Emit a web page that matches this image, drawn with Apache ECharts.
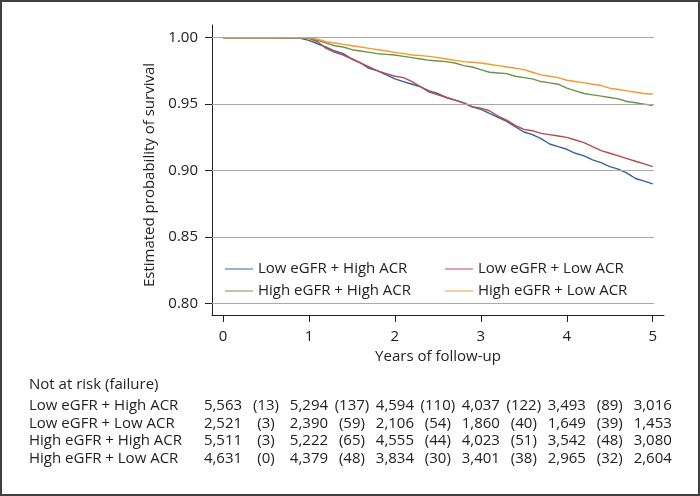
<!DOCTYPE html>
<html><head><meta charset="utf-8">
<script src="https://cdn.jsdelivr.net/npm/echarts@6/dist/echarts.min.js"></script>
<style>html,body{margin:0;padding:0;background:#fff}#c{width:700px;height:496px}</style>
</head><body><div id="c"></div>
<script>
const years = [0,0.5,0.9,1.0,1.1,1.2,1.3,1.4,1.5,1.6,1.7,1.8,1.9,2.0,2.1,2.2,2.3,2.4,2.5,2.6,2.7,2.8,2.9,3.0,3.1,3.2,3.3,3.4,3.5,3.6,3.7,3.8,3.9,4.0,4.1,4.2,4.3,4.4,4.5,4.6,4.7,4.8,4.9,5.0];
const lowEgfrHighAcr  = [1,1,0.9995,0.998,0.9955,0.993,0.990,0.988,0.984,0.981,0.977,0.975,0.972,0.969,0.967,0.965,0.963,0.960,0.958,0.955,0.953,0.951,0.948,0.946,0.943,0.940,0.937,0.933,0.929,0.927,0.924,0.920,0.918,0.916,0.913,0.911,0.908,0.906,0.903,0.901,0.898,0.894,0.892,0.890];
const lowEgfrLowAcr   = [1,1,1,0.9995,0.997,0.992,0.989,0.987,0.984,0.981,0.978,0.975,0.973,0.971,0.970,0.967,0.963,0.959,0.957,0.955,0.953,0.951,0.948,0.947,0.945,0.941,0.938,0.934,0.931,0.930,0.928,0.927,0.926,0.925,0.923,0.921,0.918,0.915,0.913,0.911,0.909,0.907,0.905,0.903];
const highEgfrHighAcr = [1,1,1,0.9995,0.998,0.996,0.994,0.993,0.991,0.990,0.989,0.988,0.9875,0.987,0.986,0.985,0.984,0.983,0.9825,0.982,0.981,0.979,0.978,0.976,0.974,0.9735,0.973,0.971,0.970,0.969,0.967,0.966,0.965,0.962,0.960,0.958,0.957,0.956,0.955,0.954,0.952,0.951,0.950,0.949];
const highEgfrLowAcr  = [1,1,1,1,0.999,0.997,0.996,0.995,0.994,0.993,0.992,0.991,0.990,0.989,0.988,0.987,0.9865,0.986,0.985,0.984,0.983,0.982,0.9815,0.981,0.980,0.979,0.978,0.977,0.976,0.974,0.972,0.971,0.970,0.968,0.967,0.966,0.965,0.964,0.962,0.961,0.960,0.959,0.958,0.9575];

const seriesNames = ['Low eGFR + High ACR','Low eGFR + Low ACR','High eGFR + High ACR','High eGFR + Low ACR'];
const seriesValues = [lowEgfrHighAcr, lowEgfrLowAcr, highEgfrHighAcr, highEgfrLowAcr];
const seriesColors = ['#35609f','#b84a4e','#6a9445','#f39a2e'];

const xTicks = [0,1,2,3,4,5];
const yTicks = [0.80,0.85,0.90,0.95,1.00];

const riskTitle = 'Not at risk (failure)';
const riskRowLabels = ['Low eGFR + High ACR','Low eGFR + Low ACR','High eGFR + High ACR','High eGFR + Low ACR'];
const notAtRisk = [
  ['5,563','5,294','4,594','4,037','3,493','3,016'],
  ['2,521','2,390','2,106','1,860','1,649','1,453'],
  ['5,511','5,222','4,555','4,023','3,542','3,080'],
  ['4,631','4,379','3,834','3,401','2,965','2,604']
];
const failures = [
  ['(13)','(137)','(110)','(122)','(89)'],
  ['(3)','(59)','(54)','(40)','(39)'],
  ['(3)','(65)','(44)','(51)','(48)'],
  ['(0)','(48)','(30)','(38)','(32)']
];

const FONT = '"Open Sans", "Noto Sans", sans-serif';
const TXT = '#222';
const xMin = -0.128, xMax = 5.131, yMin = 0.7912, yMax = 1.0096, gridEnd = 5.015;

const chart = echarts.init(document.getElementById('c'), null, {renderer:'canvas'});

const legendPos = [[225,260],[445,260],[225,282],[445,282]];

const option = {
  animation: false,
  backgroundColor: '#fff',
  grid: {left:212, top:25, width:452, height:290, containLabel:false, outerBoundsMode:'none'},
  xAxis: {
    type:'value', min:xMin, max:xMax,
    axisLine:{show:true, onZero:false, lineStyle:{color:TXT, width:1}},
    axisTick:{show:true, customValues:xTicks, length:7, lineStyle:{color:TXT}},
    axisLabel:{customValues:xTicks, margin:14, fontSize:15, color:TXT, fontFamily:FONT},
    splitLine:{show:false},
    name:'Years of follow-up', nameLocation:'middle', nameGap:33,
    nameTextStyle:{fontSize:15, color:TXT, fontFamily:FONT}
  },
  yAxis: {
    type:'value', min:yMin, max:yMax,
    axisLine:{show:true, onZero:false, lineStyle:{color:TXT, width:1}},
    axisTick:{show:true, customValues:yTicks, length:7, lineStyle:{color:TXT}},
    axisLabel:{customValues:yTicks, margin:14, fontSize:15, color:TXT, fontFamily:FONT, formatter:v=>v.toFixed(2)},
    splitLine:{show:false},
    name:'Estimated probability of survival', nameLocation:'middle', nameGap:50,
    nameTextStyle:{fontSize:15, color:TXT, fontFamily:FONT, padding:[0,10,0,0]}
  },
  legend: seriesNames.map((n,i)=>({
    data:[n], left:legendPos[i][0], top:legendPos[i][1], padding:0,
    icon:'rect', itemWidth:28, itemHeight:1.5,
    itemStyle:{opacity:0.65},
    textStyle:{fontSize:15, color:TXT, fontFamily:FONT, lineHeight:18}
  })),
  series: [
    {
      type:'line', name:'grid', data:[], z:1, silent:true,
      markLine:{
        silent:true, symbol:['none','none'], label:{show:false},
        lineStyle:{color:'#a8a8a8', type:'solid', width:1},
        data: yTicks.map(v=>[{coord:[xMin, v]},{coord:[gridEnd, v]}])
      }
    },
    ...seriesNames.map((n,i)=>({
      type:'line', name:n, z:2, showSymbol:false, symbol:'none',
      color: seriesColors[i],
      lineStyle:{width:1.4, color:seriesColors[i]},
      data: years.map((t,k)=>[t, seriesValues[i][k]])
    }))
  ]
};
chart.setOption(option);

const graphics = [];
graphics.push({type:'rect', shape:{x:1,y:1,width:698,height:494}, style:{fill:null, stroke:'#404040', lineWidth:2}, z:100});
graphics.push({type:'text', x:29, y:385, style:{text:riskTitle, fontSize:15, fontFamily:FONT, fill:TXT, align:'left', verticalAlign:'middle'}});
const rowY = [406, 423.5, 441, 458.5];
riskRowLabels.forEach((lab,r)=>{
  graphics.push({type:'text', x:29, y:rowY[r], style:{text:lab, fontSize:15, fontFamily:FONT, fill:TXT, align:'left', verticalAlign:'middle'}});
  notAtRisk[r].forEach((s,k)=>{
    const px = chart.convertToPixel({xAxisIndex:0}, xTicks[k]);
    graphics.push({type:'text', x:px, y:rowY[r], style:{text:s, fontSize:15, fontFamily:FONT, fill:TXT, align:'center', verticalAlign:'middle'}});
  });
  failures[r].forEach((s,k)=>{
    const px = chart.convertToPixel({xAxisIndex:0}, xTicks[k]+0.5);
    graphics.push({type:'text', x:px, y:rowY[r], style:{text:s, fontSize:15, fontFamily:FONT, fill:TXT, align:'center', verticalAlign:'middle'}});
  });
});
chart.setOption({graphic: graphics});
</script>
</body></html>
